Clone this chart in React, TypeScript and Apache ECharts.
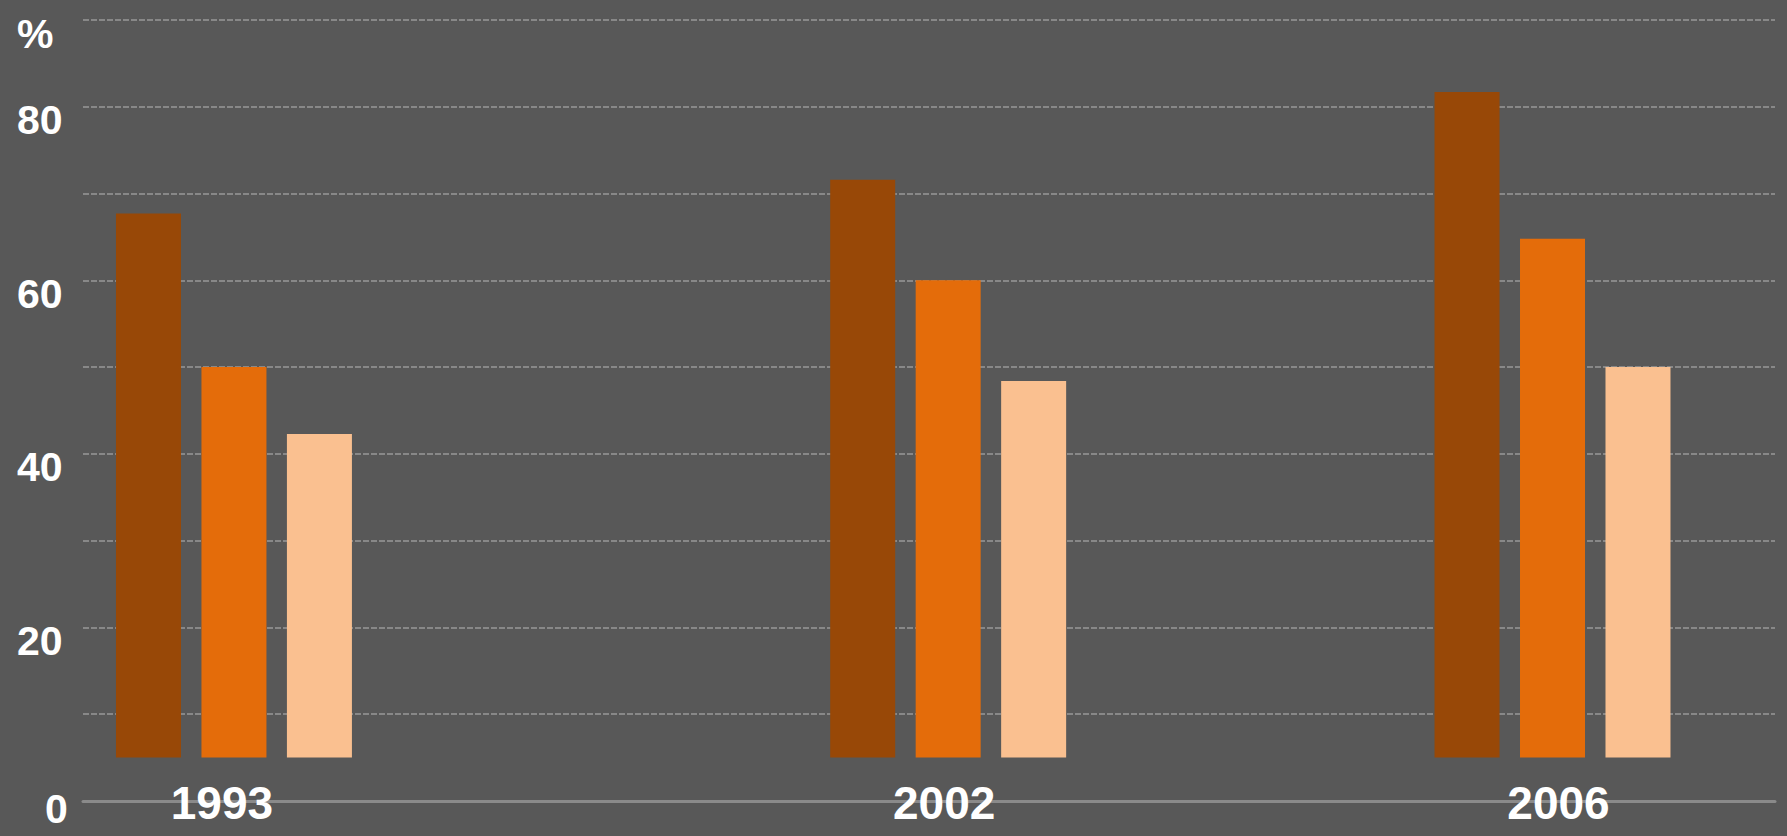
import React, { useEffect, useRef } from 'react';
import * as echarts from 'echarts';

// ---- data ----
const years = ['1993', '2002', '2006'];
const darkValues = [67.7, 71.6, 81.7];
const midValues = [50.0, 60.0, 64.8];
const lightValues = [42.3, 48.4, 50.0];
const barBase = 5;
const yTickLabels: Record<number, string> = { 0: '0', 20: '20', 40: '40', 60: '60', 80: '80', 90: '%' };

// ---- layout ----
const SLOT_COUNT = 30;
const GROUP_SLOTS = [2, 15, 26];
const LABEL_PADS = [
  [0, 24, 0, 0],
  [0, 8, 0, 0],
  [0, 0, 0, 12],
];
const COLORS = ['#984807', '#E46C0A', '#FAC090'];

const NARROW = '"Liberation Sans Narrow", "Arial Narrow", "Liberation Sans", sans-serif';
const SANS = '"Liberation Sans", Arial, sans-serif';

function slotData(values: number[], sub: number) {
  const arr: any[] = new Array(SLOT_COUNT).fill('-');
  GROUP_SLOTS.forEach((s, i) => {
    arr[s] = +(values[i] - sub).toFixed(2);
  });
  return arr;
}

export default function App() {
  const ref = useRef<HTMLDivElement>(null);
  useEffect(() => {
    if (!ref.current) return;
    const chart = echarts.init(ref.current, undefined, { renderer: 'svg' });

    const cats: any[] = new Array(SLOT_COUNT).fill('').map((_, i) => ({ value: 'slot' + i }));
    GROUP_SLOTS.forEach((s, i) => {
      cats[s] = { value: years[i], textStyle: { padding: LABEL_PADS[i] } };
    });

    const seriesSets = [darkValues, midValues, lightValues];
    const series: any[] = [];
    seriesSets.forEach((vals, i) => {
      series.push({
        type: 'bar',
        xAxisIndex: 1,
        yAxisIndex: 1,
        stack: 'g' + i,
        silent: true,
        barWidth: 65,
        barGap: '31.5%',
        itemStyle: { color: 'rgba(0,0,0,0)' },
        data: slotData(GROUP_SLOTS.map(() => barBase), 0),
      });
      series.push({
        type: 'bar',
        xAxisIndex: 1,
        yAxisIndex: 1,
        stack: 'g' + i,
        barWidth: 65,
        barGap: '31.5%',
        itemStyle: { color: COLORS[i] },
        data: slotData(vals, barBase),
      });
    });

    const option: any = {
      animation: false,
      backgroundColor: '#585858',
      grid: [
        { left: 83, right: 12, top: 20, bottom: 35, outerBoundsMode: 'none', containLabel: false },
        { left: 96.6, width: 1648.2, top: 20, bottom: 35, outerBoundsMode: 'none', containLabel: false },
      ],
      xAxis: [
        {
          gridIndex: 0,
          type: 'category',
          data: [''],
          axisLine: { show: true, lineStyle: { color: '#8a8a8a', width: 3 } },
          axisTick: { show: false },
          axisLabel: { show: false },
          splitLine: { show: false },
        },
        {
          gridIndex: 1,
          type: 'category',
          data: cats,
          axisLine: { show: false },
          axisTick: { show: false },
          splitLine: { show: false },
          axisLabel: {
            interval: 0,
            margin: -21,
            verticalAlign: 'top',
            color: '#ffffff',
            fontSize: 46,
            lineHeight: 46,
            fontWeight: 'bold',
            fontFamily: SANS,
            formatter: (v: string) => (years.includes(v) ? v : ''),
          },
        },
      ],
      yAxis: [
        {
          gridIndex: 0,
          type: 'value',
          min: 0,
          max: 90,
          interval: 10,
          axisLine: { show: false },
          axisTick: { show: false },
          splitLine: { show: true, lineStyle: { color: '#888888', type: [6, 2], width: 2 } },
          axisLabel: {
            margin: 66,
            align: 'left',
            verticalAlign: 'middle',
            formatter: (v: number) => {
              const t = yTickLabels[v];
              if (t === undefined) return '';
              return v === 0 ? '{z|' + t + '}' : '{n|' + t + '}';
            },
            rich: {
              n: { color: '#ffffff', fontSize: 41, fontWeight: 'bold', fontFamily: NARROW, padding: [27, 0, 0, 0] },
              z: { color: '#ffffff', fontSize: 41, fontWeight: 'bold', fontFamily: NARROW, padding: [16, 0, 0, 28] },
            },
          },
        },
        {
          gridIndex: 1,
          type: 'value',
          min: 0,
          max: 90,
          interval: 10,
          show: false,
          splitLine: { show: false },
        },
      ],
      series,
    };
    chart.setOption(option);
    return () => chart.dispose();
  }, []);
  return <div ref={ref} style={{ position: 'absolute', left: 0, top: 0, width: 1787, height: 836 }} />;
}
